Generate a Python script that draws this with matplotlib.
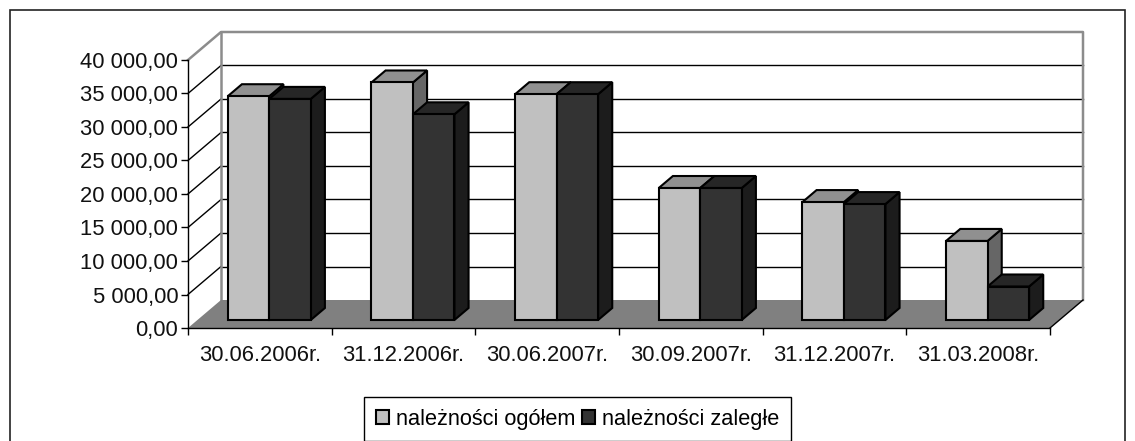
import matplotlib
matplotlib.use("Agg")
import matplotlib.pyplot as plt
from matplotlib.patches import Polygon, Rectangle

plt.rcParams['font.family'] = ['Liberation Sans', 'DejaVu Sans']

# values
categories = ["30.06.2006r.", "31.12.2006r.", "30.06.2007r.",
              "30.09.2007r.", "31.12.2007r.", "31.03.2008r."]
ogolem = [33400, 35450, 33700, 19700, 17600, 11800]
zalegle = [33000, 30700, 33700, 19700, 17300, 5000]
y_ticks = [0, 5000, 10000, 15000, 20000, 25000, 30000, 35000, 40000]
y_labels = ["0,00", "5 000,00", "10 000,00", "15 000,00", "20 000,00",
            "25 000,00", "30 000,00", "35 000,00", "40 000,00"]

W, H = 1135, 441
Y_MAX = 40000
# size of one data unit in pixels, for the fake 3d depth
px_x = 862 / len(categories)
px_y = 268 / Y_MAX
depth_dx = 33 / px_x
depth_dy = 28 / px_y


def shift(x, y, d):
    # move a point d of the way into the chart depth
    return (x + d * depth_dx, y + d * depth_dy)


def poly(ax, pts, color, edge='black', lw=1.5, z=2):
    ax.add_patch(Polygon(pts, closed=True, facecolor=color, edgecolor=edge,
                         linewidth=lw, zorder=z, clip_on=False,
                         joinstyle='miter'))


fig = plt.figure(figsize=(W / 100, H / 100), dpi=100)
fig.patches.append(Rectangle((9.5 / W, -0.05), (1125 - 9.5) / W, 1.05 - 10.5 / H,
                             transform=fig.transFigure, facecolor='white',
                             edgecolor='#222222', linewidth=1.2, zorder=-1))

ax = fig.add_axes([188 / W, 1 - 328 / H, 862 / W, 268 / H])
ax.set_xlim(0, len(categories))
ax.set_ylim(0, Y_MAX)
ax.patch.set_visible(False)
n = len(categories)

# back and side wall gridlines
for v in y_ticks[1:-1]:
    ax.plot([0, shift(0, v, 1)[0]], [v, shift(0, v, 1)[1]], color='black',
            lw=1, zorder=1, clip_on=False)
    ax.plot([shift(0, v, 1)[0], shift(n, v, 1)[0]], [shift(0, v, 1)[1]] * 2,
            color='black', lw=1, zorder=1, clip_on=False)

# wall outline
wall = [(0, Y_MAX), shift(0, Y_MAX, 1), shift(n, Y_MAX, 1), shift(n, 0, 1)]
ax.plot([p[0] for p in wall], [p[1] for p in wall], color='#8c8c8c', lw=1.8,
        zorder=1, clip_on=False)
ax.plot([shift(0, 0, 1)[0], shift(0, Y_MAX, 1)[0]],
        [shift(0, 0, 1)[1], shift(0, Y_MAX, 1)[1]], color='#8c8c8c', lw=1.8,
        zorder=1, clip_on=False)

# floor
ax.add_patch(Polygon([(0, 0), (n, 0), shift(n, 0, 1), shift(0, 0, 1)],
                     facecolor='#808080', edgecolor='none', zorder=1.5,
                     clip_on=False))
ax.plot([n, shift(n, 0, 1)[0]], [0, shift(n, 0, 1)[1]], color='black', lw=1,
        zorder=1.6, clip_on=False)

# bars, front face first then top and side
bar_w = 41.5 / px_x
d0, d1 = 8 / 28, 20 / 28
series = [(ogolem, -1, '#c0c0c0', '#909090', '#666666'),
          (zalegle, 0, '#333333', '#262626', '#1c1c1c')]
z = 3
for i in range(n):
    for vals, off, front, top, side in series:
        v = vals[i]
        x0 = i + 0.5 + off * bar_w
        x1 = x0 + bar_w
        a = shift(x0, 0, d0)
        b = shift(x1, v, d0)
        poly(ax, [shift(x1, 0, d0), shift(x1, 0, d1), shift(x1, v, d1), b], side, z=z)
        poly(ax, [shift(x0, v, d0), b, shift(x1, v, d1), shift(x0, v, d1)], top, z=z)
        ax.bar(a[0], v, width=bar_w, bottom=a[1], align='edge', color=front,
               edgecolor='black', linewidth=1.5, zorder=z + 0.1, clip_on=False)
        z += 1

for s in ['top', 'right']:
    ax.spines[s].set_visible(False)
for s in ['left', 'bottom']:
    ax.spines[s].set_linewidth(1.0)
    ax.spines[s].set_zorder(60)

ax.set_yticks(y_ticks)
ax.set_yticklabels(y_labels, fontsize=15.8, color='#111111')
ax.tick_params(axis='y', length=5, width=1, pad=2)
ax.set_xticks(range(n + 1))
ax.set_xticklabels([])
ax.tick_params(axis='x', which='major', length=5, width=1)
ax.set_xticks([i + 0.5 for i in range(n)], minor=True)
ax.set_xticklabels(categories, minor=True, fontsize=15.8, color='#111111')
ax.tick_params(axis='x', which='minor', length=0, pad=12)

# legend
handles = [Rectangle((0, 0), 1, 1, facecolor='#c0c0c0', edgecolor='black', linewidth=1.5),
           Rectangle((0, 0), 1, 1, facecolor='#333333', edgecolor='black', linewidth=1.5)]
leg = fig.legend(handles, ["należności ogółem", "należności zaległe"], ncol=2,
                 loc='center', bbox_to_anchor=(577.5 / W, 1 - 419 / H),
                 frameon=True, fancybox=False, edgecolor='black', framealpha=1,
                 fontsize=15.7, handlelength=0.62, handleheight=0.62,
                 handletextpad=0.3, columnspacing=0.3, borderpad=0.55,
                 labelspacing=0)
leg.get_frame().set_linewidth(1)

fig.savefig("out.png")
